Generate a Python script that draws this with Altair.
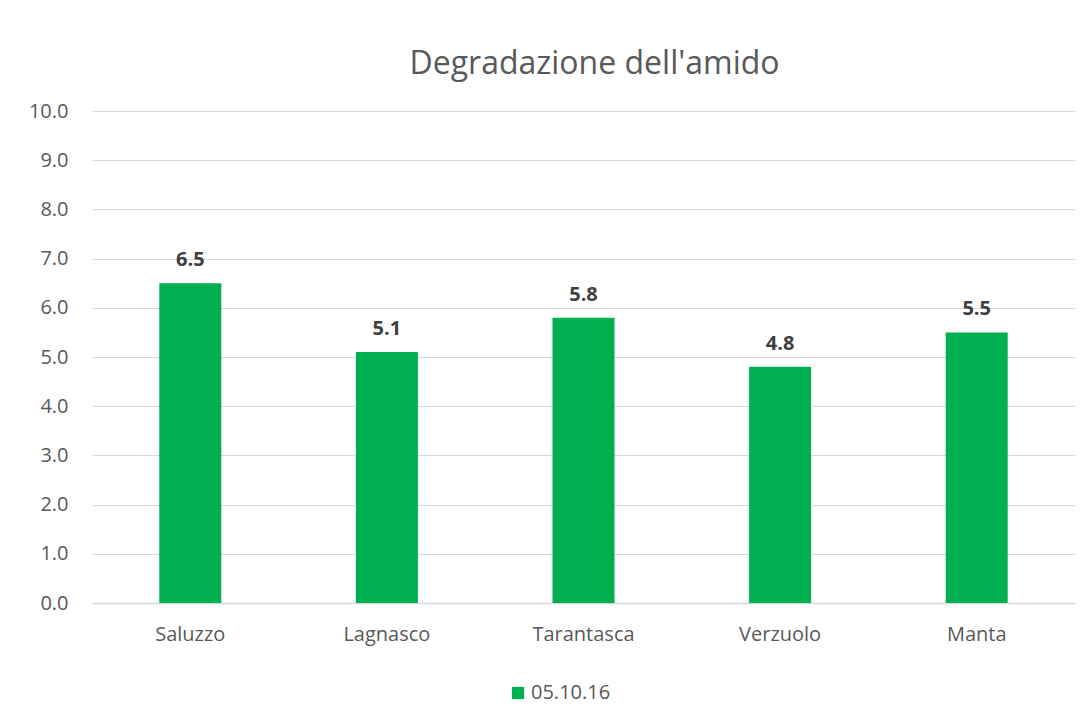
import altair as alt
import pandas as pd

locations = ["Saluzzo", "Lagnasco", "Tarantasca", "Verzuolo", "Manta"]
values = [6.5, 5.1, 5.8, 4.8, 5.5]
series = ["05.10.16"] * 5

df = pd.DataFrame({"loc": locations, "val": values, "serie": series})

FONT = "Open Sans"
GRAY = "#595959"
FS = 20

base = alt.Chart(df)

bars = base.mark_bar(size=62, color="#00B050").encode(
    x=alt.X("loc:N", sort=locations,
            scale=alt.Scale(paddingInner=0, paddingOuter=0),
            axis=alt.Axis(title=None, labelAngle=0, labelFontSize=FS, labelColor=GRAY,
                          labelFont=FONT, labelPadding=21, ticks=False,
                          domainColor="#D9D9D9", domainWidth=1.5, grid=False)),
    y=alt.Y("val:Q", scale=alt.Scale(domain=[0, 10], nice=False),
            axis=alt.Axis(title=None, values=[0, 1, 2, 3, 4, 5, 6, 7, 8, 9, 10], format=".1f",
                          labelFontSize=FS, labelColor=GRAY, labelFont=FONT, labelPadding=24,
                          ticks=False, domain=False, gridColor="#D9D9D9", gridWidth=1)),
    color=alt.Color("serie:N", scale=alt.Scale(range=["#00B050"]),
                    legend=alt.Legend(title=None, orient="none", legendX=416, legendY=572,
                                      symbolType="square", symbolSize=150, symbolStrokeWidth=0,
                                      labelOffset=3, labelLimit=0, padding=0,
                                      labelFontSize=FS, labelColor=GRAY, labelFont=FONT)),
)

labels = base.mark_text(baseline="bottom", dy=-13, fontSize=FS, fontWeight="bold",
                        color="#404040", font=FONT).encode(
    x=alt.X("loc:N", sort=locations),
    y=alt.Y("val:Q"),
    text=alt.Text("val:Q", format=".1f"),
)

chart = alt.layer(bars, labels).properties(
    width=983, height=492,
    background="white",
    padding={"left": 84, "top": 103, "right": 7, "bottom": 106},
    autosize=alt.AutoSizeParams(type="none"),
    title=alt.TitleParams("Degradazione dell'amido", fontSize=32, font=FONT, fontWeight="normal",
                          color=GRAY, anchor="middle", dx=11, offset=20),
).configure_view(strokeWidth=0, stroke="transparent")

chart.save("out.html", embed_options={"renderer": "svg", "actions": False})
